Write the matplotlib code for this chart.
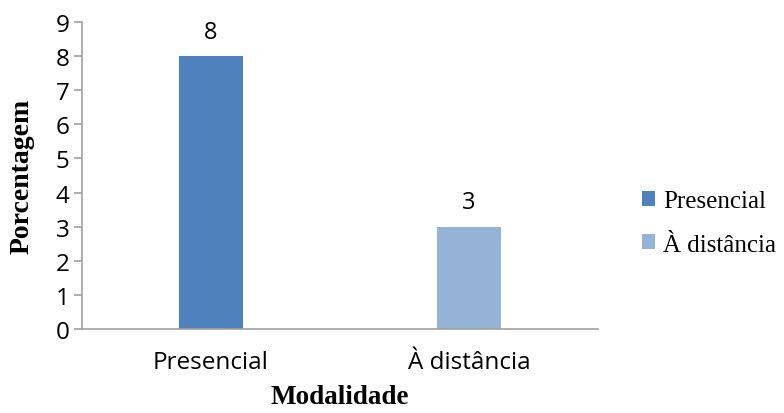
import matplotlib.pyplot as plt

categories = ["Presencial", "À distância"]
values = [8, 3]
colors = ["#4F81BD", "#95B3D7"]
y_ticks = list(range(0, 10))

fig = plt.figure(figsize=(7.84, 4.14), dpi=100)
ax = fig.add_axes([0.1046, 0.2029, 0.658, 0.7415])

x = range(len(categories))
bars = ax.bar(x, values, width=0.25, color=colors, label=categories)

for rect, v in zip(bars, values):
    ax.annotate(str(v), (rect.get_x() + rect.get_width() / 2, v),
                xytext=(0, 9), textcoords="offset points",
                ha="center", va="bottom", fontsize=17, family="Open Sans")

ax.set_xlim(-0.5, 1.5)
ax.set_ylim(0, 9)
ax.set_yticks(y_ticks)
ax.set_xticks(list(x))
ax.set_xticklabels(categories, family="Open Sans", fontsize=17.5)
ax.tick_params(axis="y", labelsize=17.5, length=6, color="#A0A0A0", width=1.2, pad=3)
ax.tick_params(axis="x", length=0, pad=15)
for lab in ax.get_yticklabels():
    lab.set_family("Open Sans")

for side in ["top", "right"]:
    ax.spines[side].set_visible(False)
for side in ["left", "bottom"]:
    ax.spines[side].set_color("#A0A0A0")
    ax.spines[side].set_linewidth(1.2)

ax.set_ylabel("Porcentagem", family="Liberation Serif", fontweight="bold",
              fontsize=20)
ax.yaxis.set_label_coords(-0.092, 0.5)
ax.set_xlabel("Modalidade", family="Liberation Serif", fontweight="bold",
              fontsize=19.5, labelpad=7)

ax.legend(handles=list(bars), labels=categories, loc="center left",
          bbox_to_anchor=(1.041, 0.345), frameon=False,
          prop={"family": "Liberation Serif", "size": 18},
          handlelength=0.55, handleheight=0.55, handletextpad=0.3,
          labelspacing=0.85)

fig.savefig("out.png", dpi=100)
